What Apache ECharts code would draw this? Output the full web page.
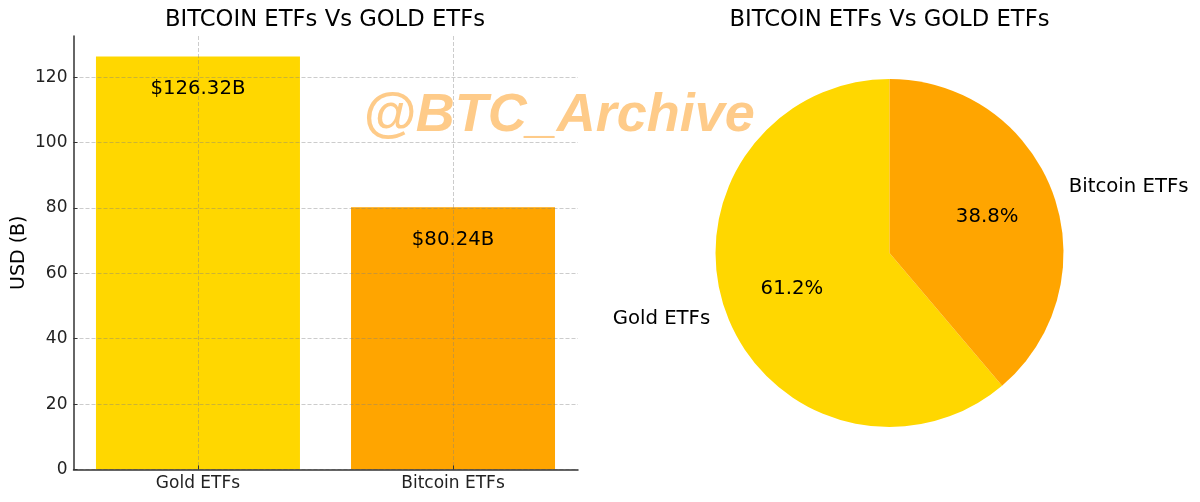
<!DOCTYPE html>
<html>
<head>
  <style>
    html, body { margin: 0; padding: 0; background: #fff; }
    #chart { width: 1200px; height: 502px; }
  </style>
</head>
<body>
  <div id="chart"></div>
  <script src="https://cdn.jsdelivr.net/npm/echarts@6/dist/echarts.min.js"></script>
  <script>
    const chart_title = 'BITCOIN ETFs Vs GOLD ETFs'
    const categories = ['Gold ETFs', 'Bitcoin ETFs']
    const category_pos = [0, 1]
    const bar_values = [126.32, 80.24]
    const bar_labels = ['$126.32B', '$80.24B']
    const pie_values = [61.2, 38.8]
    const bar_colors = ['#FFD700', '#FFA500']
    const y_ticks = [0, 20, 40, 60, 80, 100, 120]
    const font = 'DejaVu Sans'

    let chart = echarts.init(document.getElementById('chart'), null, { renderer: 'canvas' })

    let split_line = { show: true, lineStyle: { color: 'rgba(128,128,128,0.4)', type: 'dashed', width: 1 } }
    let title_style = { fontSize: 22.7, fontWeight: 'normal', color: '#000', fontFamily: font }

    let option = {
      animation: false,
      textStyle: { fontFamily: font },
      title: [
        { text: chart_title, left: 320, top: -7, textAlign: 'center', textStyle: title_style },
        { text: chart_title, left: 884.5, top: -7, textAlign: 'center', textStyle: title_style },
      ],
      graphic: [{
        type: 'text',
        left: 363,
        top: 70,
        z: 100,
        style: { text: '@BTC_Archive', font: 'italic bold 54px "Liberation Sans"', fill: 'rgba(253,160,40,0.55)' },
      }],
      grid: { left: 73.5, right: 622, top: 36, bottom: 32.5, outerBoundsMode: 'none' },
      xAxis: {
        type: 'value',
        min: -0.488,
        max: 1.49,
        z: 3,
        axisLine: { show: true, onZero: false, lineStyle: { color: '#333', width: 1.5 } },
        axisTick: { show: true, inside: true, length: 4, customValues: category_pos, lineStyle: { color: '#333' } },
        axisLabel: { color: '#222', fontSize: 17, margin: -3, customValues: category_pos, formatter: (v) => categories[v] },
        splitLine: split_line,
      },
      yAxis: {
        type: 'value',
        name: 'USD (B)',
        nameLocation: 'middle',
        nameGap: 36,
        nameMoveOverlap: false,
        nameTextStyle: { fontSize: 19, color: '#000' },
        min: 0,
        max: 132.6,
        z: 3,
        axisLine: { show: true, onZero: false, lineStyle: { color: '#333', width: 1.5 } },
        axisTick: { show: true, inside: true, length: 4, customValues: y_ticks, lineStyle: { color: '#333' } },
        axisLabel: { color: '#222', fontSize: 17, margin: 6, customValues: y_ticks },
        splitLine: split_line,
      },
      series: [
        {
          type: 'bar',
          barWidth: 204,
          z: 1,
          data: bar_values.map((v, i) => ({
            value: [category_pos[i], v],
            itemStyle: { color: bar_colors[i] },
            label: { show: true, position: 'insideTop', distance: 13, formatter: bar_labels[i], fontSize: 19.7, color: '#000' },
          })),
        },
        {
          type: 'pie',
          center: [889.5, 253],
          radius: [0, 174],
          startAngle: 90,
          clockwise: false,
          silent: true,
          avoidLabelOverlap: false,
          data: categories.map((c, i) => ({ name: c, value: pie_values[i], itemStyle: { color: bar_colors[i] } })),
          label: {
            show: true,
            position: 'outside',
            fontSize: 19.7,
            color: '#000',
            distanceToLabelLine: 0,
            formatter: '{b}',
          },
          labelLine: { show: false, length: 17, length2: 0 },
        },
        {
          // transparent copy, only carries the percent labels inside the pie
          type: 'pie',
          center: [889.5, 253],
          radius: [0, 202],
          startAngle: 90,
          clockwise: false,
          silent: true,
          avoidLabelOverlap: false,
          itemStyle: { color: 'transparent' },
          data: categories.map((c, i) => ({ name: c, value: pie_values[i] })),
          label: {
            show: true,
            position: 'inner',
            fontSize: 19.7,
            color: '#000',
            formatter: (p) => p.value.toFixed(1) + '%',
          },
          labelLine: { show: false },
        },
      ],
    }
    chart.setOption(option)
  </script>
</body>
</html>
